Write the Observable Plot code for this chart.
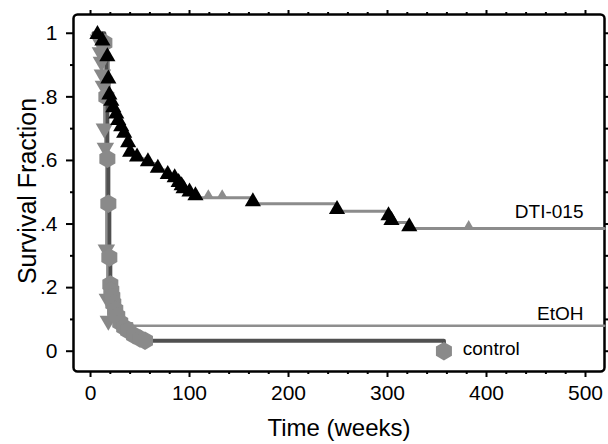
<!DOCTYPE html>
<html><head><meta charset="utf-8">
<script src="https://cdn.jsdelivr.net/npm/d3@7"></script>
<script src="https://cdn.jsdelivr.net/npm/@observablehq/plot@0.6"></script>
<style>body{margin:0;background:#fff} svg{font-family:"Liberation Sans",Arial,sans-serif}</style>
</head><body><div id="chart"></div>
<script>
// DTI-015 events
const dtiTimes = [7, 12, 17, 18, 19, 21, 23, 26, 28, 31, 34, 38, 40, 47, 58, 68, 78, 85, 89, 92, 94, 100, 106, 164, 249, 301, 304, 322];
const dtiSurv  = [0.99, 0.97, 0.92, 0.85, 0.80, 0.78, 0.76, 0.74, 0.72, 0.70, 0.68, 0.65, 0.62, 0.605, 0.59, 0.57, 0.55, 0.54, 0.525, 0.515, 0.505, 0.495, 0.483, 0.464, 0.44, 0.42, 0.405, 0.386];
const dtiCensor = [119, 133, 382];
// EtOH events
const etohTimes = [8, 10, 11, 12, 13, 14, 15, 16, 17, 18, 30, 42];
const etohSurv  = [0.98, 0.94, 0.91, 0.87, 0.835, 0.70, 0.64, 0.32, 0.165, 0.096, 0.088, 0.08];
// control events
const ctrlTimes = [14, 16, 17, 18, 19, 20, 21, 22, 23, 25, 27, 30, 34, 38, 44, 50, 55, 357];
const ctrlSurv  = [0.97, 0.80, 0.605, 0.464, 0.295, 0.21, 0.19, 0.17, 0.15, 0.13, 0.11, 0.09, 0.075, 0.065, 0.05, 0.04, 0.033, 0];
const startTime = 3;
const endTime = 519;
const seriesNames = ["DTI-015", "EtOH", "control"];
const labelTimes = [498, 498, 376];
const labelValues = [0.437, 0.118, 0.007];
const xMajor = [0, 100, 200, 300, 400, 500];
const xMinor = d3.range(20, 520, 20).filter(d => d % 100 !== 0);
const yMajor = [0, 0.2, 0.4, 0.6, 0.8, 1];
const yMinor = [0.1, 0.3, 0.5, 0.7, 0.9];
const yFmt = d => d === 0 ? "0" : d === 1 ? "1" : d3.format(".1f")(d).replace(/^0/, "");

const toPts = (ts, vs) => ts.map((t, i) => ({t, v: vs[i]}));
const dtiEvents = toPts(dtiTimes, dtiSurv);
const etohEvents = toPts(etohTimes, etohSurv);
const ctrlEvents = toPts(ctrlTimes, ctrlSurv);
const dtiLine = [{t: startTime, v: 1}, ...dtiEvents, {t: endTime, v: dtiSurv[dtiSurv.length - 1]}];
const etohLine = [{t: startTime, v: 1}, ...etohEvents, {t: endTime, v: etohSurv[etohSurv.length - 1]}];
const ctrlLine = [{t: startTime, v: 1}, ...ctrlEvents];
const censorPts = dtiCensor.map(t => ({t, v: dtiSurv.filter((s, i) => dtiTimes[i] <= t).pop()}));
const labels = seriesNames.map((n, i) => ({n, t: labelTimes[i], v: labelValues[i]}));

const chart = Plot.plot({
  width: 608, height: 444,
  marginLeft: 73, marginRight: 4, marginTop: 14, marginBottom: 73,
  x: {domain: [-17.2, 519.2]},
  y: {domain: [-0.0638, 1.059]},
  style: {fontFamily: "'Liberation Sans', Arial, sans-serif", fontSize: "20px", color: "#000", background: "#fff"},
  marks: [
    Plot.axisX(xMajor, {anchor: "bottom", tickSize: 6, tickPadding: 8, tickFormat: d => String(d), label: null, fontSize: 21, strokeWidth: 2}),
    Plot.axisX(xMinor, {anchor: "bottom", tickSize: 3, tickFormat: () => "", label: null, strokeWidth: 2}),
    Plot.axisX(xMajor, {anchor: "top", tickSize: 5, tickFormat: () => "", label: null, strokeWidth: 2}),
    Plot.axisX(xMinor, {anchor: "top", tickSize: 3, tickFormat: () => "", label: null, strokeWidth: 2}),
    Plot.axisY(yMajor, {anchor: "left", tickSize: 7, tickPadding: 9, tickFormat: yFmt, label: null, fontSize: 21, strokeWidth: 2}),
    Plot.axisY(yMinor, {anchor: "left", tickSize: 3, tickFormat: () => "", label: null, strokeWidth: 2}),
    Plot.axisY(yMajor, {anchor: "right", tickSize: 5, tickFormat: () => "", label: null, strokeWidth: 2}),
    Plot.axisY(yMinor, {anchor: "right", tickSize: 3, tickFormat: () => "", label: null, strokeWidth: 2}),
    Plot.frame({stroke: "#000", strokeWidth: 2.5, rx: 4}),
    Plot.line(dtiLine, {x: "t", y: "v", curve: "step-after", stroke: "#8c8c8c", strokeWidth: 3}),
    Plot.line(etohLine, {x: "t", y: "v", curve: "step-after", stroke: "#8e8e8e", strokeWidth: 2.5}),
    Plot.line(ctrlLine, {x: "t", y: "v", curve: "step-after", stroke: "#505050", strokeWidth: 4}),
    Plot.dot(censorPts, {x: "t", y: "v", symbol: "triangle", r: 3.5, fill: "#8c8c8c", dy: -3}),
    Plot.dot(etohEvents.slice(0, 10), {x: "t", y: "v", symbol: "triangle", rotate: 180, r: 6.5, fill: "#888"}),
    Plot.dot(ctrlEvents, {x: "t", y: "v", symbol: "hexagon", r: 8, fill: "#8a8a8a"}),
    Plot.dot(dtiEvents, {x: "t", y: "v", symbol: "triangle", r: 6, fill: "#000", dy: -2}),
    Plot.text(labels.slice(0, 2), {x: "t", y: "v", text: "n", textAnchor: "end", fontSize: 19, fill: "#000"}),
    Plot.text(labels.slice(2), {x: "t", y: "v", text: "n", textAnchor: "start", fontSize: 19, fill: "#000"}),
    Plot.text(["Time (weeks)"], {text: d => d, frameAnchor: "bottom", textAnchor: "middle", dy: 64, fontSize: 24, fill: "#000"}),
    Plot.text(["Survival Fraction"], {text: d => d, frameAnchor: "left", textAnchor: "middle", rotate: -90, dx: -46, dy: -2, fontSize: 25, fill: "#000"})
  ]
});
document.getElementById("chart").append(chart);
</script>
</body></html>
